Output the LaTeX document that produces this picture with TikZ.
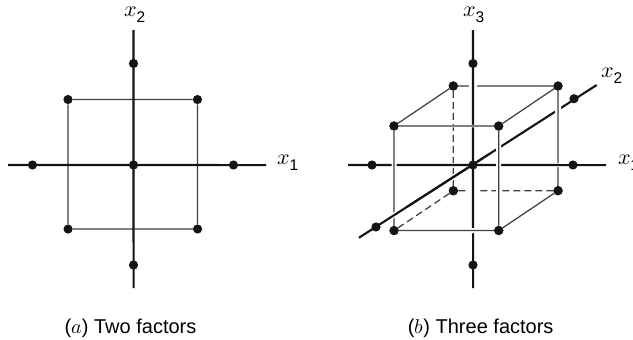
\documentclass[tikz,border=0pt]{standalone}
\usetikzlibrary{calc}
\usepackage{fontspec}
\setmainfont{Liberation Sans}
\usepackage{unicode-math}
\tikzset{
  axisline/.style={line width=2.1pt,black!92},
  edgeline/.style={line width=1.25pt,black!75},
  dashline/.style={edgeline,dash pattern=on 7pt off 4pt},
  halo/.style={line width=#1,white},
  dot/.style={circle,fill=black!92,inner sep=0pt,minimum size=9.2pt},
  lbl/.style={inner sep=0pt,font=\fontsize{22}{24}\selectfont},
  captext/.style={inner sep=0pt,font=\fontsize{20}{24}\selectfont}
}
\newcommand{\vsub}[2]{$#1$\kern-0.5pt\raisebox{-6pt}{\fontsize{15.5}{16}\selectfont #2}}
\begin{document}
\begin{tikzpicture}[x=1pt,y=-1pt]
\path[use as bounding box] (0,0) rectangle (633,340);
\clip (0,0) rectangle (633,340);
\fill[white] (0,0) rectangle (633,340);
% (a)
\coordinate (aT) at (133.5,30); \coordinate (aB) at (133.56,288);
\coordinate (aL) at (8,165); \coordinate (aR) at (266,165.06);
\node[dot] (a1) at (68,99.5) {}; \node[dot] (a2) at (197.5,99.56) {};
\node[dot] (a3) at (197.56,229) {}; \node[dot] (a4) at (68.06,229.06) {};
\draw[edgeline] (a1) -- (a2) -- (a3) -- (a4) -- (a1);
\draw[axisline] (aT) -- (aB); \draw[axisline] (aL) -- (aR);
\node[dot] (a5) at (133.5,63.5) {}; \node[dot] (a6) at (133.5,265) {};
\node[dot] (a7) at (32.5,165) {}; \node[dot] (a8) at (233.5,165) {};
\node[dot] (a0) at (133.5,165) {};
\node[lbl] (ax2) at (135,15) {\vsub{x}{2}};
\node[lbl] (ax1) at (288,163) {\vsub{x}{1}};
\node[captext] (acap) at (130.5,328) {($a$) Two factors};
% (b)
\coordinate (bT) at (473,30); \coordinate (bB) at (473.06,288);
\coordinate (bL) at (348,165); \coordinate (bR) at (606,165.06);
\coordinate (dA) at (359,237.7); \coordinate (dB) at (596.7,85);
\node[dot] (b1) at (453.3,86) {}; \node[dot] (b2) at (558,86.06) {};
\node[dot] (b3) at (558.06,190.7) {}; \node[dot] (b4) at (453.36,190.76) {};
\node[dot] (f1) at (394,126) {}; \node[dot] (f2) at (498.7,126.06) {};
\node[dot] (f3) at (498.76,230.5) {}; \node[dot] (f4) at (394.06,230.56) {};
% back edges
\draw[dashline] (b1) -- (b4); \draw[dashline] (b3) -- (b4); \draw[dashline] (b4) -- (f4);
\draw[edgeline] (b1) -- (b2);
\draw[edgeline] (b1) -- (f1); \draw[edgeline] (b2) -- (f2); \draw[edgeline] (b3) -- (f3);
% diagonal axis, then the rear right edge over it
\draw[halo=5pt] (dA) -- (dB); \draw[axisline] (dA) -- (dB);
\draw[halo=6pt] (b2) -- (b3); \draw[edgeline] (b2) -- (b3);
% horizontal and vertical axes
\draw[halo=4pt] (bL) -- (bR);
\draw[halo=8pt] (bT) -- (bB);
\draw[axisline] (bL) -- (bR);
\draw[axisline] (bT) -- (bB);
% front face
\draw[halo=2.5pt] (f1) -- (f2); \draw[edgeline] (f1) -- (f2);
\draw[halo=5pt] (f3) -- (f4); \draw[edgeline] (f3) -- (f4);
\draw[halo=5pt] (f2) -- (f3); \draw[edgeline] (f2) -- (f3);
\draw[halo=5pt] (f1) -- (f4); \draw[edgeline] (f1) -- (f4);
% lower part of the diagonal lies over the front left edge
\draw[halo=5pt] (dA) -- ($(dA)!0.2!(dB)$);
\draw[axisline] (dA) -- ($(dA)!0.55!(dB)$);
\foreach \n in {b1,b2,b3,b4,f1,f2,f3,f4} \node[dot] at (\n) {};
\node[dot] (b5) at (473,63.5) {}; \node[dot] (b6) at (473,265) {};
\node[dot] (b7) at (372,165) {}; \node[dot] (b8) at (573,165) {};
\node[dot] (b0) at (473,165) {};
\node[dot] (d1) at (376,227) {}; \node[dot] (d2) at (574,98.7) {};
\node[lbl] (bx3) at (474,15) {\vsub{x}{3}};
\node[lbl] (bx2) at (612,76) {\vsub{x}{2}};
\node[lbl,anchor=west] (bx1) at (618,163) {\vsub{x}{1}};
\node[captext] (bcap) at (480.7,328) {($b$) Three factors};
\end{tikzpicture}
\end{document}
